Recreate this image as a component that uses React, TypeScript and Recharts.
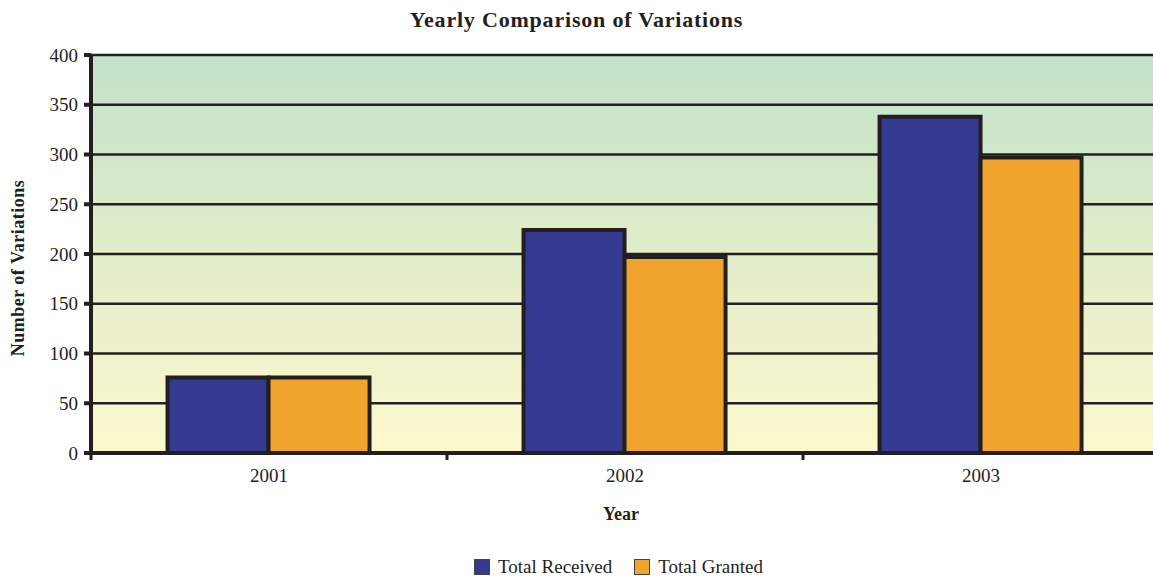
import React from "react";
import {
  BarChart,
  Bar,
  XAxis,
  YAxis,
  CartesianGrid,
  Legend,
} from "recharts";

const YEARS = ["2001", "2002", "2003"];
const TOTAL_RECEIVED = [76, 224, 338];
const TOTAL_GRANTED = [76, 197, 297];
const Y_TICKS = [0, 50, 100, 150, 200, 250, 300, 350, 400];
const SERIES_ORDER = ["Total Received", "Total Granted"];

const INK = "#231f20";
const BLUE = "#343a92";
const ORANGE = "#f0a42d";
const FONT = '"Liberation Serif", "Times New Roman", serif';

const data = YEARS.map((year, i) => ({
  year,
  received: TOTAL_RECEIVED[i],
  granted: TOTAL_GRANTED[i],
}));

// category label in the middle, tick mark on the band's left edge
const renderXTick = (props: any) => {
  const { x, y, payload } = props;
  const edge = x - (payload.offset || 0);
  return (
    <g>
      <line x1={edge} x2={edge} y1={y - 8} y2={y - 1} stroke={INK} strokeWidth={3} />
      <text x={x} y={y + 21} textAnchor="middle" fontSize={19} fill={INK} fontFamily={FONT}>
        {payload.value}
      </text>
    </g>
  );
};

const renderYLabel = (props: any) => {
  const { viewBox } = props;
  const cx = viewBox.x + 18;
  const cy = viewBox.y + viewBox.height / 2 + 14;
  return (
    <text
      x={cx}
      y={cy}
      transform={`rotate(-90 ${cx} ${cy})`}
      textAnchor="middle"
      dominantBaseline="central"
      fontSize={18}
      fontWeight="bold"
      letterSpacing={0.5}
      fill={INK}
      fontFamily={FONT}
    >
      Number of Variations
    </text>
  );
};

const renderXLabel = (props: any) => {
  const { viewBox } = props;
  return (
    <text
      x={viewBox.x + 530}
      y={viewBox.y + 67}
      textAnchor="middle"
      fontSize={18}
      fontWeight="bold"
      fill={INK}
      fontFamily={FONT}
    >
      Year
    </text>
  );
};

const renderLegend = (props: any) => {
  const items = [...(props.payload || [])].sort(
    (a: any, b: any) => SERIES_ORDER.indexOf(a.value) - SERIES_ORDER.indexOf(b.value)
  );
  return (
    <div
      style={{
        height: 35,
        display: "flex",
        justifyContent: "center",
        alignItems: "flex-end",
        gap: 22,
        paddingLeft: 78,
        fontFamily: FONT,
        fontSize: 19,
        color: INK,
      }}
    >
      {items.map((item: any, index: number) => (
        <div key={index} style={{ display: "flex", alignItems: "center", gap: 8 }}>
          <div
            style={{
              width: 16,
              height: 16,
              backgroundColor: item.color,
              border: "1.5px solid #444",
              boxSizing: "border-box",
            }}
          ></div>
          <span>{item.value}</span>
        </div>
      ))}
    </div>
  );
};

export default function App() {
  return (
    <div
      style={{
        position: "absolute",
        left: 0,
        top: 0,
        width: 1153,
        height: 578,
        overflow: "hidden",
        background: "#fff",
        fontFamily: FONT,
      }}
    >
      <svg width={0} height={0} style={{ position: "absolute" }}>
        <defs>
          <linearGradient id="plotBg" x1="0" y1="0" x2="0" y2="1">
            <stop offset="0%" stopColor="#c2e2c9" />
            <stop offset="50%" stopColor="#e2edc9" />
            <stop offset="100%" stopColor="#fdf8cd" />
          </linearGradient>
        </defs>
      </svg>
      <div
        style={{
          position: "absolute",
          top: 7,
          left: 0,
          width: 1153,
          textAlign: "center",
          fontSize: 22,
          fontWeight: "bold",
          letterSpacing: 0.8,
          color: INK,
        }}
      >
        Yearly Comparison of Variations
      </div>
      <BarChart
        width={1161}
        height={578}
        data={data}
        margin={{ top: 55, right: 2, bottom: 0, left: 0 }}
        barCategoryGap="21.5%"
        barGap={0}
        style={{ position: "absolute", left: 0, top: 0 }}
      >
        <CartesianGrid
          vertical={false}
          stroke={INK}
          strokeWidth={2.5}
          fill="url(#plotBg)"
          fillOpacity={1}
        />
        <XAxis
          dataKey="year"
          height={90}
          axisLine={{ stroke: INK, strokeWidth: 4 }}
          tickLine={false}
          tick={renderXTick}
          interval={0}
          label={renderXLabel}
        />
        <YAxis
          width={91}
          domain={[0, 400]}
          ticks={Y_TICKS}
          interval={0}
          axisLine={{ stroke: INK, strokeWidth: 4 }}
          tickLine={{ stroke: INK, strokeWidth: 4 }}
          tickSize={7}
          tick={{ fill: INK, fontSize: 19, fontFamily: FONT, dx: -4 }}
          label={renderYLabel}
        />
        <Bar
          dataKey="received"
          name="Total Received"
          fill={BLUE}
          stroke={INK}
          strokeWidth={4}
          isAnimationActive={false}
        />
        <Bar
          dataKey="granted"
          name="Total Granted"
          fill={ORANGE}
          stroke={INK}
          strokeWidth={4}
          isAnimationActive={false}
        />
        <Legend verticalAlign="bottom" content={renderLegend} />
      </BarChart>
    </div>
  );
}
